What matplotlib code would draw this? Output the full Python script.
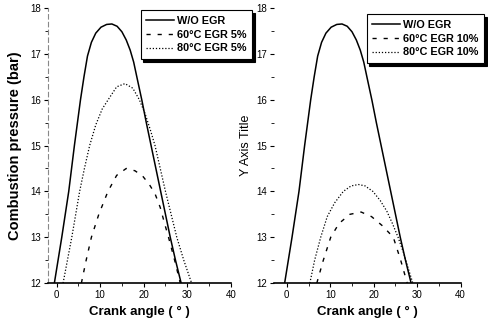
import matplotlib
matplotlib.use('Agg')
import matplotlib.pyplot as plt
from matplotlib.ticker import MultipleLocator

plt.rcParams['font.family'] = ['Liberation Sans', 'DejaVu Sans']

# Curves (crank angle in deg, pressure in bar)
wo_x = [-0.5, 0.35, 1.2, 2.0, 2.8, 3.45, 4.1, 4.8, 5.5, 6.3, 7.1, 8.0, 9.0, 10.2, 11.5, 12.7,
        13.9, 15.0, 16.0, 16.9, 17.7, 18.6, 19.6, 20.6, 21.7, 22.8, 23.9, 25.0, 26.1, 27.3, 28.6]
wo_y = [12.0, 12.5, 13.0, 13.5, 14.0, 14.5, 15.0, 15.5, 16.0, 16.5, 16.95, 17.25, 17.45, 17.58, 17.64, 17.65,
        17.6, 17.48, 17.3, 17.08, 16.82, 16.42, 15.98, 15.5, 15.0, 14.5, 14.0, 13.5, 13.0, 12.5, 12.0]

e60_5_x = [5.7, 6.8, 8.0, 9.7, 11.8, 13.8, 16.0, 18.0, 19.8, 21.3, 22.6, 23.8, 24.8, 25.7, 27.1, 28.4]
e60_5_y = [12.0, 12.5, 13.0, 13.5, 14.0, 14.35, 14.5, 14.45, 14.33, 14.15, 13.95, 13.65, 13.3, 13.0, 12.5, 12.0]

e80_5_x = [1.5, 2.5, 3.5, 4.4, 5.3, 6.4, 7.6, 9.0, 10.5, 12.2, 13.8, 15.7, 17.5, 19.0,
           20.3, 21.5, 22.6, 23.8, 25.0, 26.3, 27.6, 29.2, 31.0]
e80_5_y = [12.0, 12.5, 13.0, 13.5, 14.0, 14.5, 15.0, 15.45, 15.8, 16.05, 16.28, 16.35, 16.25, 16.0,
           15.7, 15.35, 15.0, 14.5, 14.0, 13.5, 13.0, 12.5, 12.0]

e60_10_x = [6.9, 8.4, 10.1, 12.0, 14.5, 17.1, 19.5, 22.0, 24.5, 26.2, 27.7]
e60_10_y = [12.0, 12.5, 13.0, 13.3, 13.5, 13.55, 13.45, 13.25, 13.0, 12.5, 12.0]

e80_10_x = [5.3, 6.4, 7.8, 9.3, 11.0, 13.0, 14.8, 16.5, 18.0, 19.8, 21.5, 23.0, 24.3, 25.6, 26.9, 28.0, 29.0]
e80_10_y = [12.0, 12.5, 13.0, 13.45, 13.75, 14.0, 14.12, 14.15, 14.12, 14.0, 13.8, 13.57, 13.3, 13.0, 12.65, 12.3, 12.0]

fig = plt.figure(figsize=(4.88, 3.30), dpi=100)
ax1 = fig.add_axes([0.098, 0.142, 0.375, 0.834])
ax2 = fig.add_axes([0.561, 0.142, 0.383, 0.834])

def style_axes(ax, xmin):
    ax.set_xlim(xmin, 40)
    ax.set_ylim(12, 18)
    ax.xaxis.set_major_locator(MultipleLocator(10))
    ax.xaxis.set_minor_locator(MultipleLocator(5))
    ax.yaxis.set_major_locator(MultipleLocator(1))
    ax.yaxis.set_minor_locator(MultipleLocator(0.5))
    ax.spines['top'].set_visible(False)
    ax.spines['right'].set_visible(False)
    ax.spines['bottom'].set_linewidth(1.2)
    ax.tick_params(which='major', length=3, width=0.8, labelsize=7, pad=2)
    ax.tick_params(which='minor', length=2, width=0.6)
    ax.set_xlabel('Crank angle ( ° )', fontsize=9.5, fontweight='bold', labelpad=4)

style_axes(ax1, -2)
style_axes(ax2, -3)
ax1.spines['left'].set_color('#888888')
ax1.spines['left'].set_linestyle((0, (4, 3)))
ax1.spines['left'].set_linewidth(0.8)
ax2.spines['left'].set_visible(False)

ax1.plot(wo_x, wo_y, color='black', lw=1.1, label='W/O EGR')
ax1.plot(e60_5_x, e60_5_y, color='black', lw=1.0, ls=(0, (3, 5)), label='60°C EGR 5%')
ax1.plot(e80_5_x, e80_5_y, color='black', lw=0.9, ls=(0, (1, 1.5)), label='80°C EGR 5%')
ax1.set_ylabel('Combustion pressure (bar)', fontsize=10.5, fontweight='bold', labelpad=6)

ax2.plot(wo_x, wo_y, color='black', lw=1.1, label='W/O EGR')
ax2.plot(e60_10_x, e60_10_y, color='black', lw=1.0, ls=(0, (3, 5)), label='60°C EGR 10%')
ax2.plot(e80_10_x, e80_10_y, color='black', lw=0.9, ls=(0, (1, 1.5)), label='80°C EGR 10%')
ax2.set_ylabel('Y Axis Title', fontsize=9, labelpad=3)

legend_kw = dict(loc='upper left', frameon=True, fancybox=False,
                 shadow={'color': 'black', 'alpha': 1}, edgecolor='black',
                 handlelength=2.6, handletextpad=0.3, borderpad=0.5, labelspacing=0.35,
                 prop={'weight': 'bold', 'size': 7.8})
leg1 = ax1.legend(bbox_to_anchor=(0.277, 0.985), bbox_transform=fig.transFigure, **legend_kw)
leg2 = ax2.legend(bbox_to_anchor=(0.740, 0.973), bbox_transform=fig.transFigure, **legend_kw)
for leg in (leg1, leg2):
    leg.get_frame().set_linewidth(0.8)
    leg.set_zorder(5)

fig.savefig('out.png', dpi=100)
